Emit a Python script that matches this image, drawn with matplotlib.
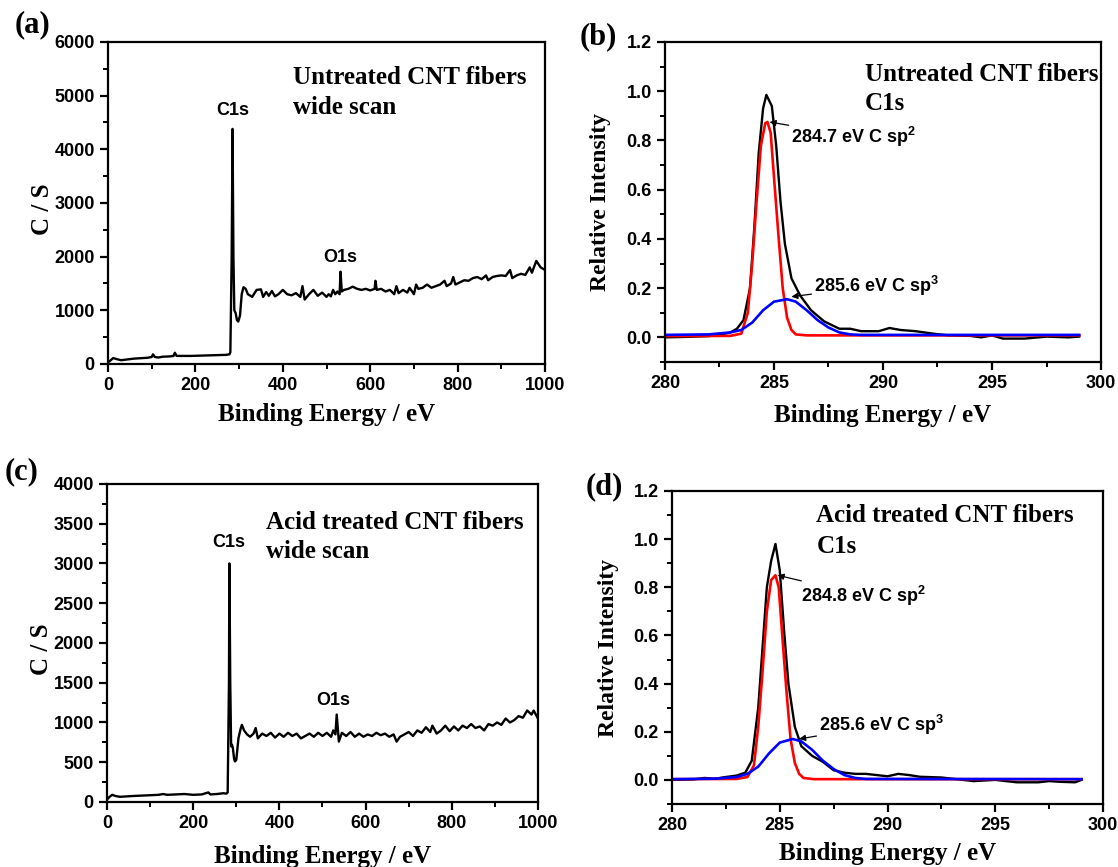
import matplotlib
matplotlib.use("Agg")
import matplotlib.pyplot as plt
from matplotlib.ticker import MultipleLocator

# ---------------- data ----------------
# (a) untreated wide scan
a_energy = [0, 5, 12, 20, 30, 40, 50, 60, 70, 80, 90, 100, 103, 107, 115, 125, 140, 150, 153, 157,
            170, 190, 210, 230, 250, 270, 278, 280, 283, 285, 287, 289, 292, 295, 298, 302, 306, 310,
            315, 320, 330, 340, 350, 355, 362, 368, 375, 382, 390, 400, 410, 420, 430, 440, 445, 450,
            460, 470, 480, 490, 500, 505, 510, 515, 520, 525, 530, 532, 535, 540, 550, 560, 570, 580,
            590, 600, 610, 612, 615, 625, 635, 645, 655, 660, 665, 675, 685, 690, 700, 705, 710, 720,
            730, 740, 750, 760, 770, 775, 785, 790, 795, 805, 815, 825, 835, 845, 855, 865, 870, 880,
            890, 900, 910, 920, 925, 935, 945, 955, 965, 970, 980, 990, 1000]
a_counts = [30, 60, 110, 90, 70, 80, 90, 100, 105, 110, 115, 130, 180, 130, 120, 135, 140, 150, 210, 150,
            150, 150, 155, 160, 165, 170, 180, 220, 2000, 4380, 2000, 1000, 950, 820, 790, 900, 1300, 1430,
            1400, 1300, 1250, 1380, 1390, 1250, 1340, 1270, 1360, 1260, 1300, 1380, 1300, 1280, 1320, 1250, 1450, 1200,
            1300, 1380, 1270, 1330, 1250, 1300, 1260, 1380, 1300, 1350, 1300, 1720, 1350, 1380, 1400, 1440, 1400, 1380,
            1400, 1370, 1400, 1550, 1380, 1400, 1350, 1380, 1300, 1450, 1320, 1380, 1330, 1420, 1300, 1480, 1400, 1420,
            1480, 1420, 1450, 1480, 1550, 1450, 1500, 1620, 1480, 1520, 1560, 1550, 1600, 1620, 1580, 1650, 1560, 1620,
            1640, 1650, 1640, 1750, 1600, 1650, 1680, 1660, 1800, 1700, 1920, 1800, 1750]

# (c) acid treated wide scan
c_energy = [0, 5, 12, 20, 30, 45, 60, 80, 100, 120, 130, 140, 160, 180, 200, 220, 235, 240, 255, 270,
            277, 280, 283, 284, 286, 288, 290, 292, 295, 297, 300, 305, 310, 313, 318, 325, 332, 340, 345,
            350, 360, 370, 380, 390, 400, 410, 420, 430, 440, 450, 460, 470, 480, 490, 500, 510, 520, 525,
            530, 533, 538, 545, 555, 565, 575, 585, 595, 605, 615, 625, 635, 645, 655, 665, 672, 680, 690,
            700, 710, 720, 730, 740, 750, 755, 765, 775, 785, 795, 805, 815, 825, 835, 845, 855, 865, 875,
            885, 895, 905, 915, 925, 935, 945, 955, 965, 975, 985, 990, 1000]
c_counts = [30, 60, 90, 75, 65, 70, 75, 80, 85, 90, 100, 90, 95, 100, 90, 95, 120, 95, 100, 110,
            105, 120, 1500, 3000, 1500, 700, 720, 680, 540, 510, 530, 800, 920, 970, 900, 850, 820, 860, 930,
            800, 860, 830, 870, 810, 860, 820, 870, 830, 860, 800, 830, 860, 820, 870, 830, 870, 820, 900,
            850, 1100, 760, 870, 830, 880, 820, 860, 820, 850, 830, 870, 840, 860, 820, 850, 760, 820, 850,
            880, 830, 900, 870, 940, 880, 960, 860, 900, 960, 890, 950, 900, 960, 930, 980, 930, 950, 900,
            980, 960, 1000, 970, 1050, 1000, 1030, 1080, 1060, 1150, 1100, 1150, 1050]

# (b) untreated C1s
b_energy = [280, 281, 282, 282.5, 283, 283.3, 283.6, 283.9, 284.1, 284.3, 284.5, 284.65, 284.9, 285.1,
            285.3, 285.5, 285.8, 286.2, 286.7, 287.3, 288.0, 288.5, 289.0, 289.8, 290.3, 290.8, 291.5,
            292.3, 293.0, 294.0, 294.5, 295.0, 295.5, 296.5, 297.5, 298.5, 299.0]
b_total = [0.0, 0.002, 0.005, 0.01, 0.02, 0.035, 0.07, 0.2, 0.45, 0.75, 0.93, 0.985, 0.94, 0.78,
           0.55, 0.38, 0.24, 0.17, 0.11, 0.065, 0.035, 0.035, 0.025, 0.025, 0.038, 0.03, 0.025,
           0.015, 0.008, 0.006, 0.0, 0.008, -0.005, -0.005, 0.003, 0.0, 0.003]
b_red_energy = [280, 283.0, 283.5, 283.8, 284.0, 284.2, 284.4, 284.6, 284.7, 284.85, 285.0, 285.2,
                285.4, 285.6, 285.8, 286.0, 286.5, 299]
b_red = [0.005, 0.006, 0.015, 0.1, 0.3, 0.55, 0.78, 0.87, 0.875, 0.83, 0.65, 0.42,
         0.2, 0.08, 0.03, 0.012, 0.008, 0.008]
b_blue_energy = [280, 282, 283, 283.5, 284, 284.5, 285, 285.6, 286, 286.5, 287, 287.5, 288, 288.5, 289, 299]
b_blue = [0.01, 0.012, 0.02, 0.03, 0.06, 0.11, 0.145, 0.155, 0.145, 0.11, 0.07, 0.04, 0.02, 0.012, 0.01, 0.01]

# (d) acid treated C1s
d_energy = [280, 281, 281.5, 282, 282.5, 283, 283.4, 283.7, 284.0, 284.2, 284.4, 284.6, 284.8, 285.0,
            285.2, 285.4, 285.7, 286.0, 286.5, 287.0, 287.5, 288.0, 288.5, 289.0, 289.5, 290.0, 290.5,
            291.0, 291.5, 292.5, 293.0, 294.0, 295.0, 296.0, 297.0, 297.5, 298.0, 298.7, 299.0]
d_total = [0.0, 0.002, 0.008, 0.005, 0.012, 0.018, 0.03, 0.08, 0.3, 0.55, 0.8, 0.91, 0.98, 0.87,
           0.62, 0.4, 0.22, 0.14, 0.1, 0.075, 0.04, 0.03, 0.025, 0.025, 0.02, 0.015, 0.025,
           0.02, 0.013, 0.01, 0.005, -0.005, 0.0, -0.01, -0.01, -0.005, -0.008, -0.01, 0.0]
d_red_energy = [280, 283.0, 283.5, 283.8, 284.0, 284.2, 284.4, 284.6, 284.8, 284.95, 285.1, 285.3,
                285.5, 285.7, 285.9, 286.1, 286.6, 299]
d_red = [0.003, 0.004, 0.012, 0.06, 0.22, 0.45, 0.7, 0.83, 0.85, 0.8, 0.62, 0.38,
         0.17, 0.07, 0.025, 0.008, 0.003, 0.003]
d_blue_energy = [280, 282, 283, 283.5, 284, 284.5, 285, 285.6, 286, 286.5, 287, 287.5, 288, 288.5, 289, 299]
d_blue = [0.003, 0.005, 0.012, 0.025, 0.055, 0.11, 0.155, 0.17, 0.16, 0.125, 0.08, 0.045, 0.02, 0.008, 0.004, 0.003]

# ---------------- style ----------------
SERIF = "Liberation Serif"
SANS = "Liberation Sans"
plt.rcParams['font.family'] = [SANS, 'DejaVu Sans']
plt.rcParams['mathtext.fontset'] = 'custom'
plt.rcParams['mathtext.rm'] = 'Liberation Sans:bold'
plt.rcParams['mathtext.it'] = 'Liberation Sans:bold'
plt.rcParams['mathtext.bf'] = 'Liberation Sans:bold'

fig = plt.figure(figsize=(11.18, 8.67), dpi=100)

ax_a = fig.add_axes([0.0966, 0.5802, 0.3909, 0.3714])
ax_b = fig.add_axes([0.5948, 0.5825, 0.3900, 0.3691])
ax_c = fig.add_axes([0.0957, 0.0750, 0.3855, 0.3668])
ax_d = fig.add_axes([0.6011, 0.0727, 0.3855, 0.3610])

TICKFS = 13
LABELFS = 18


def style(ax):
    for s in ax.spines.values():
        s.set_linewidth(1.6)
    ax.tick_params(which='major', direction='out', length=6, width=1.6,
                   top=False, right=False, labelsize=TICKFS)
    ax.tick_params(which='minor', direction='out', length=3.5, width=1.4,
                   top=False, right=False)
    for lab in ax.get_xticklabels() + ax.get_yticklabels():
        lab.set_fontweight('bold')
        lab.set_family(SANS)


# (a)
ax_a.plot(a_energy, a_counts, color='black', lw=1.7)
ax_a.set_xlim(0, 1000)
ax_a.set_ylim(0, 6000)
ax_a.xaxis.set_major_locator(MultipleLocator(200))
ax_a.xaxis.set_minor_locator(MultipleLocator(100))
ax_a.yaxis.set_major_locator(MultipleLocator(1000))
ax_a.yaxis.set_minor_locator(MultipleLocator(500))
style(ax_a)
ax_a.text(424, 5330, "Untreated CNT fibers", family=SERIF, fontweight='bold', fontsize=LABELFS, va='center')
ax_a.text(424, 4770, "wide scan", family=SERIF, fontweight='bold', fontsize=LABELFS, va='center')
ax_a.text(286, 4730, "C1s", fontweight='bold', fontsize=13, ha='center', va='center')
ax_a.text(532, 1990, "O1s", fontweight='bold', fontsize=13, ha='center', va='center')
ax_a.set_xlabel("Binding Energy / eV", family=SERIF, fontweight='bold', fontsize=LABELFS, va='center')
ax_a.xaxis.set_label_coords(0.5, -0.158)
ax_a.set_ylabel("C / S", family=SERIF, fontweight='bold', fontsize=LABELFS, va='center')
ax_a.yaxis.set_label_coords(-0.151, 0.48)

# (c)
ax_c.plot(c_energy, c_counts, color='black', lw=1.7)
ax_c.set_xlim(0, 1000)
ax_c.set_ylim(0, 4000)
ax_c.xaxis.set_major_locator(MultipleLocator(200))
ax_c.xaxis.set_minor_locator(MultipleLocator(100))
ax_c.yaxis.set_major_locator(MultipleLocator(500))
ax_c.yaxis.set_minor_locator(MultipleLocator(250))
style(ax_c)
ax_c.text(368, 3510, "Acid treated CNT fibers", family=SERIF, fontweight='bold', fontsize=LABELFS, va='center')
ax_c.text(368, 3150, "wide scan", family=SERIF, fontweight='bold', fontsize=LABELFS, va='center')
ax_c.text(283, 3265, "C1s", fontweight='bold', fontsize=13, ha='center', va='center')
ax_c.text(525, 1273, "O1s", fontweight='bold', fontsize=13, ha='center', va='center')
ax_c.set_xlabel("Binding Energy / eV", family=SERIF, fontweight='bold', fontsize=LABELFS, va='center')
ax_c.xaxis.set_label_coords(0.5, -0.172)
ax_c.set_ylabel("C / S", family=SERIF, fontweight='bold', fontsize=LABELFS, va='center')
ax_c.yaxis.set_label_coords(-0.151, 0.48)


def c1s_panel(ax, e, tot, re, red, be, blue, title, l1, l2, a1, a2, t1, t2):
    ax.plot(e, tot, color='black', lw=1.7)
    ax.plot(re, red, color='#ff0000', lw=1.9)
    ax.plot(be, blue, color='#0000ff', lw=1.9)
    ax.set_xlim(280, 300)
    ax.set_ylim(-0.1, 1.2)
    ax.xaxis.set_major_locator(MultipleLocator(5))
    ax.xaxis.set_minor_locator(MultipleLocator(2.5))
    ax.yaxis.set_major_locator(MultipleLocator(0.2))
    ax.yaxis.set_minor_locator(MultipleLocator(0.1))
    ax.yaxis.set_major_formatter(plt.FormatStrFormatter('%.1f'))
    style(ax)
    ax.text(t1[0], t1[1], title, family=SERIF, fontweight='bold', fontsize=LABELFS, va='center')
    ax.text(t1[0], t2, "C1s", family=SERIF, fontweight='bold', fontsize=LABELFS, va='center')
    ax.annotate(l1, xy=a1[0], xytext=a1[1], fontsize=13, fontweight='bold', va='center',
                arrowprops=dict(arrowstyle='-|>', color='black', lw=0.9, mutation_scale=9,
                                shrinkA=0, shrinkB=0))
    ax.annotate(l2, xy=a2[0], xytext=a2[1], fontsize=13, fontweight='bold', va='center',
                arrowprops=dict(arrowstyle='-|>', color='black', lw=0.9, mutation_scale=9,
                                shrinkA=0, shrinkB=0))
    ax.set_xlabel("Binding Energy / eV", family=SERIF, fontweight='bold', fontsize=LABELFS, va='center')
    ax.set_ylabel("Relative Intensity", family=SERIF, fontweight='bold', fontsize=17, va='center')


c1s_panel(ax_b, b_energy, b_total, b_red_energy, b_red, b_blue_energy, b_blue,
          "Untreated CNT fibers", r"284.7 eV C sp$^{2}$", r"285.6 eV C sp$^{3}$",
          ((284.8, 0.875), (285.8, 0.815)), ((285.8, 0.165), (286.85, 0.21)),
          (289.16, 1.067), 0.95)
ax_b.xaxis.set_label_coords(0.5, -0.166)
ax_b.yaxis.set_label_coords(-0.149, 0.5)

c1s_panel(ax_d, d_energy, d_total, d_red_energy, d_red, d_blue_energy, d_blue,
          "Acid treated CNT fibers", r"284.8 eV C sp$^{2}$", r"285.6 eV C sp$^{3}$",
          ((284.9, 0.85), (286.0, 0.765)), ((285.9, 0.17), (286.83, 0.228)),
          (286.7, 1.097), 0.968)
ax_d.xaxis.set_label_coords(0.5, -0.158)
ax_d.yaxis.set_label_coords(-0.148, 0.5)

# panel letters
for lbl, x, y in [("(a)", 15, 25), ("(b)", 580, 37), ("(c)", 5, 472), ("(d)", 586, 487)]:
    fig.text(x / 1118, 1 - y / 867, lbl, family=SERIF, fontweight='bold', fontsize=22,
             ha='left', va='center')

fig.savefig("out.png", dpi=100)
